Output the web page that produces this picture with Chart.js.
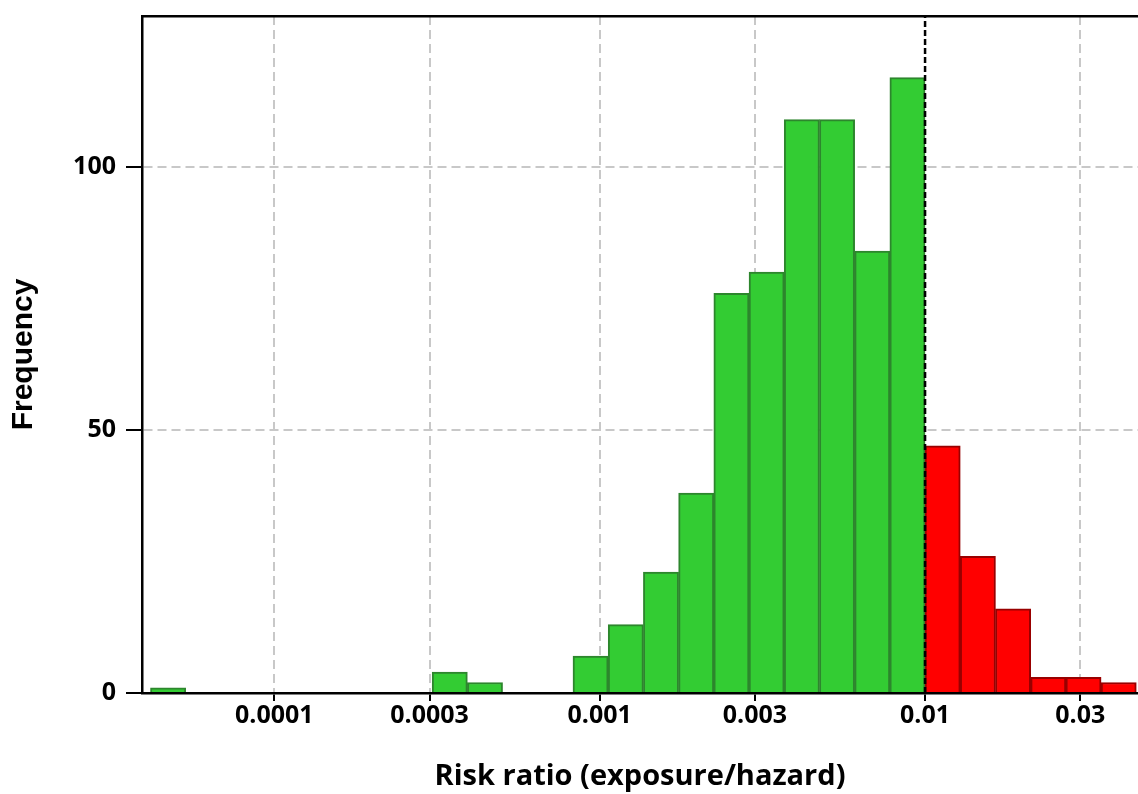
<!DOCTYPE html>
<html>
<head>
<meta charset="utf-8">
<script src="https://cdn.jsdelivr.net/npm/chart.js@4.4.1/dist/chart.umd.min.js"></script>
<style>
  html, body { margin: 0; padding: 0; background: #fff; }
  #wrap { width: 1138px; height: 794px; }
</style>
</head>
<body>
<div id="wrap"><canvas id="riskChart"></canvas></div>
<script>
// histogram of risk ratios, bins of equal width in log10 space
var counts = [1, 0, 0, 0, 0, 0, 0, 0, 4, 2, 0, 0, 7, 13, 23, 38, 76, 80, 109, 109, 84, 117, 47, 26, 16, 3, 3, 2];
var firstBinLog = -4.3804;   // log10 of the lower edge of the first bin
var binWidthLog = 0.1082;    // bin width in decades
var threshold = 0.01;        // risk ratio limit (dashed line)

var xTickValues = [0.0001, 0.0003, 0.001, 0.003, 0.01, 0.03];
var xTickLabels = ["0.0001", "0.0003", "0.001", "0.003", "0.01", "0.03"];
var yTickValues = [0, 50, 100];
var xMinLog = -4.4065;
var xMaxLog = -1.3456;
var yMax = 128.7;

document.addEventListener("DOMContentLoaded", function() {
  var ctx = document.getElementById("riskChart").getContext("2d");
  var thresholdLog = Math.log10(threshold);

  var barData = counts.map(function(c, i) {
    return { x: firstBinLog + (i + 0.5) * binWidthLog, y: c };
  });

  var tickFont = { family: "Open Sans", size: 25, weight: "bold" };

  new Chart(ctx, {
    type: "bar",
    data: {
      datasets: [
        {
          type: "line",
          data: [{ x: thresholdLog, y: 0 }, { x: thresholdLog, y: yMax }],
          borderColor: "#000",
          borderWidth: 2.5,
          borderDash: [6, 3],
          pointRadius: 0,
          order: 0
        },
        {
          type: "bar",
          data: barData,
          backgroundColor: function(c) {
            return c.raw && c.raw.x > thresholdLog ? "#ff0000" : "#33cc33";
          },
          borderColor: function(c) {
            return c.raw && c.raw.x > thresholdLog ? "#990000" : "#2d862d";
          },
          borderWidth: 2,
          barPercentage: 1,
          categoryPercentage: 1,
          order: 1
        }
      ]
    },
    options: {
      responsive: true,
      maintainAspectRatio: false,
      animation: false,
      layout: { padding: 0 },
      plugins: {
        legend: { display: false },
        tooltip: { enabled: false }
      },
      scales: {
        x: {
          type: "linear",
          position: "bottom",
          min: xMinLog,
          max: xMaxLog,
          offset: false,
          afterBuildTicks: function(scale) {
            scale.ticks = xTickValues.map(function(v) { return { value: Math.log10(v) }; });
          },
          afterFit: function(scale) { scale.height = 101; },
          ticks: {
            autoSkip: false,
            maxRotation: 0,
            padding: 0,
            color: "#000",
            font: tickFont,
            callback: function(value, index) { return xTickLabels[index]; }
          },
          grid: {
            offset: false,
            color: function(c) {
              return c.tick && Math.abs(c.tick.value - thresholdLog) < 1e-6 ? "rgba(0,0,0,0)" : "#c8c8c8";
            },
            lineWidth: 2,
            tickColor: "#000",
            tickWidth: 2,
            tickLength: 8
          },
          border: { display: true, color: "#000", width: 2.5, dash: [9, 5] },
          title: {
            display: true,
            text: "Risk ratio (exposure/hazard)",
            color: "#000",
            font: { family: "Open Sans", size: 29, weight: "bold" },
            padding: { top: 0, bottom: 0 }
          }
        },
        xTop: {
          type: "linear",
          position: "top",
          min: 0,
          max: 1,
          afterFit: function(scale) { scale.height = 16; },
          ticks: { display: false },
          grid: { display: false, drawTicks: false },
          border: { display: true, color: "#000", width: 2.5 }
        },
        y: {
          type: "linear",
          min: 0,
          max: yMax,
          afterBuildTicks: function(scale) {
            scale.ticks = yTickValues.map(function(v) { return { value: v }; });
          },
          afterFit: function(scale) {
            scale.width = 142;
            scale.paddingTop = 0;
            scale.paddingBottom = 0;
          },
          ticks: {
            padding: 10,
            color: "#000",
            font: tickFont
          },
          grid: {
            color: "#c8c8c8",
            lineWidth: 2,
            tickColor: "#000",
            tickWidth: 2,
            tickLength: 16
          },
          border: { display: true, color: "#000", width: 2.5, dash: [9, 5] },
          title: {
            display: true,
            text: "Frequency",
            color: "#000",
            font: { family: "Liberation Sans", size: 30, weight: "bold" },
            padding: { top: 6, bottom: 0 }
          }
        }
      }
    }
  });
});
</script>
</body>
</html>
